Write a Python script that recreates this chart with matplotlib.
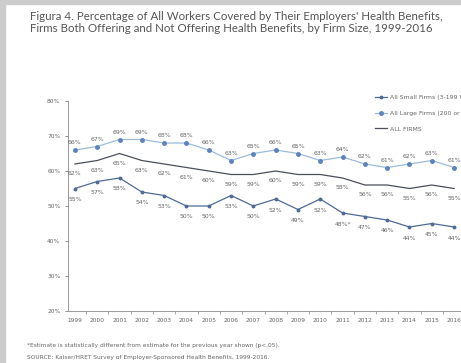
import matplotlib.pyplot as plt
import numpy as np

years = list(range(1999, 2017))
large = [66, 67, 69, 69, 68, 68, 66, 63, 65, 66, 65, 63, 64, 62, 61, 62, 63, 61]
allf = [62, 63, 65, 63, 62, 61, 60, 59, 59, 60, 59, 59, 58, 56, 56, 55, 56, 55]
small = [55, 57, 58, 54, 53, 50, 50, 53, 50, 52, 49, 52, 48, 47, 46, 44, 45, 44]
small_lbl = ["55%", "57%", "58%", "54%", "53%", "50%", "50%", "53%", "50%", "52%",
             "49%", "52%", "48%*", "47%", "46%", "44%", "45%", "44%"]
yticks = [20, 30, 40, 50, 60, 70, 80]

c_large = "#9bbbdc"
c_all = "#4a4f5a"
c_small = "#4f6a96"
c_txt = "#666666"

fig = plt.figure(figsize=(4.61, 3.63), dpi=100)
fig.patches.append(plt.Rectangle((0, 0), 5 / 461, 1, transform=fig.transFigure,
                                 color="#cccccc", zorder=0))
fig.patches.append(plt.Rectangle((0, 1 - 4 / 363), 1, 4 / 363, transform=fig.transFigure,
                                 color="#cccccc", zorder=0))

fig.text(30 / 461, 1 - 16 / 363,
         "Figura 4. Percentage of All Workers Covered by Their Employers' Health Benefits,",
         fontsize=8.3, color="#555555", va="center", family="Lato")
fig.text(30 / 461, 1 - 29 / 363,
         "Firms Both Offering and Not Offering Health Benefits, by Firm Size, 1999-2016",
         fontsize=8.3, color="#555555", va="center", family="Lato")

ax = fig.add_axes([68 / 461, 52 / 363, 402 / 461, 210 / 363])
ax.set_xlim(1998.69, 1999 + (470 - 75) / 22.3)
ax.set_ylim(20, 80)

ax.plot(years, small, color=c_small, lw=0.9, marker="o", ms=1.8, label="All Small Firms (3-199 Workers)")
ax.plot(years, large, color=c_large, lw=0.9, marker="o", ms=2.5, mfc="#5d83bd", mec="#5d83bd",
        label="All Large Firms (200 or More Workers)")
ax.plot(years, allf, color=c_all, lw=0.9, label="ALL FIRMS")

for x, v in zip(years, large):
    ax.annotate(f"{v}%", (x, v), xytext=(0, 4), textcoords="offset points",
                ha="center", fontsize=4.4, color=c_txt)
for x, v in zip(years, allf):
    ax.annotate(f"{v}%", (x, v), xytext=(0, -8), textcoords="offset points",
                ha="center", fontsize=4.4, color=c_txt)
for x, v, s in zip(years, small, small_lbl):
    ax.annotate(s, (x, v), xytext=(0, -9), textcoords="offset points",
                ha="center", fontsize=4.4, color=c_txt)

ax.set_yticks(yticks)
ax.set_yticklabels([f"{t}%" for t in yticks])
ax.set_xticks(years)
ax.set_xticks(np.array(years[:-1]) + 0.5, minor=True)
ax.tick_params(axis="both", labelsize=4.2, colors=c_txt, length=2, width=0.5)
ax.tick_params(axis="x", which="major", length=0, pad=5)
ax.tick_params(axis="x", which="minor", length=2, width=0.5, color="#888888")
for s in ["top", "right"]:
    ax.spines[s].set_visible(False)
for s in ["left", "bottom"]:
    ax.spines[s].set_color("#999999")
    ax.spines[s].set_linewidth(0.7)

fig.legend(loc="upper left", bbox_to_anchor=(375 / 461, 1 - 95 / 363), frameon=False, fontsize=4.4,
           labelcolor=c_txt, handlelength=2.0, handletextpad=0.5, labelspacing=1.7,
           borderpad=0, borderaxespad=0)

fig.text(27 / 461, 1 - 345 / 363,
         "*Estimate is statistically different from estimate for the previous year shown (p<.05).",
         fontsize=4.2, color=c_txt, va="center")
fig.text(27 / 461, 1 - 357 / 363,
         "SOURCE: Kaiser/HRET Survey of Employer-Sponsored Health Benefits, 1999-2016.",
         fontsize=4.2, color=c_txt, va="center")

fig.savefig("out.png", dpi=100)
